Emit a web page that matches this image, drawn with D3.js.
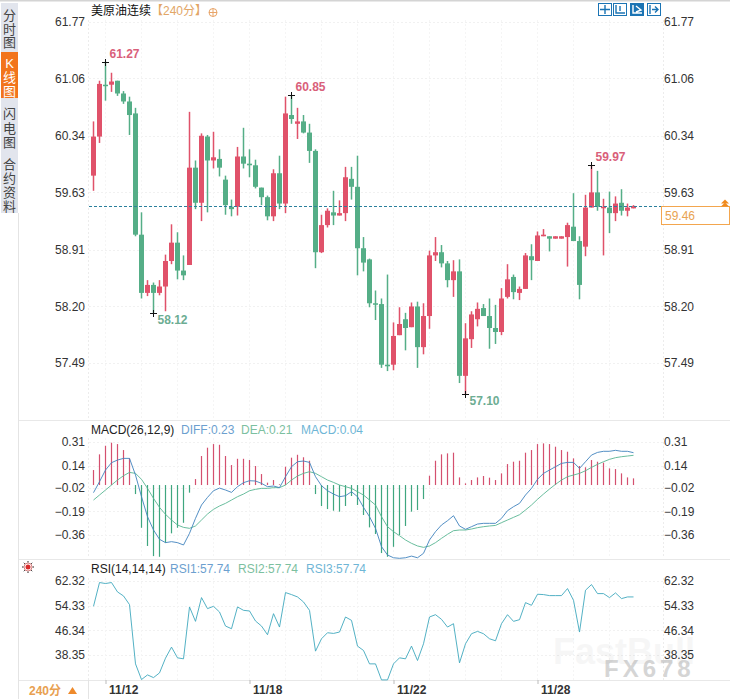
<!DOCTYPE html>
<html>
<head>
<meta charset="utf-8">
<script src="https://d3js.org/d3.v7.min.js"></script>
<style>
html, body { margin: 0; padding: 0; background: #fff; }
svg { display: block; }
text { font-family: "Liberation Sans", "Noto Sans CJK SC", sans-serif; }
</style>
</head>
<body>
<div id="chart"></div>
<script>
var opens = [59.84,60.33,60.98,60.98,61.03,60.87,60.77,60.62,59.10,58.37,58.47,58.37,58.45,58.77,59.00,58.65,58.72,59.94,59.50,60.33,60.03,60.05,59.79,59.45,59.45,60.08,59.99,59.97,59.69,59.57,59.33,59.87,59.49,60.60,60.49,60.52,60.38,60.15,58.88,59.22,59.38,59.34,59.37,59.80,59.70,58.93,58.79,58.24,58.23,57.47,57.47,57.84,58.04,57.94,58.20,57.69,58.08,58.84,58.88,58.74,58.53,58.64,57.33,57.79,58.04,58.18,58.08,57.93,57.88,58.32,58.57,58.37,58.42,58.83,58.77,59.08,59.08,59.05,59.05,59.07,59.20,59.02,58.95,59.44,59.63,59.44,59.44,59.37,59.50,59.40,59.43];
var highs = [60.52,61.03,61.27,61.13,61.03,60.90,60.83,60.69,59.38,58.53,58.50,58.53,58.85,59.23,59.13,58.84,60.64,60.03,60.37,60.35,60.39,60.17,59.84,59.54,60.20,60.44,60.17,60.04,59.69,59.59,59.92,60.09,60.83,60.85,60.69,60.60,60.49,60.17,59.35,59.43,59.65,59.53,59.95,59.95,60.09,59.07,58.80,58.40,58.30,58.60,58.00,58.19,58.12,58.25,58.26,58.24,58.90,59.07,58.97,58.77,58.78,58.79,57.99,58.14,58.25,58.23,58.30,58.22,58.43,58.73,58.60,58.45,58.87,58.98,59.14,59.17,59.08,59.08,59.08,59.25,59.62,59.08,59.60,59.97,59.90,59.55,59.64,59.58,59.67,59.49,59.47];
var lows = [59.65,60.25,60.78,60.89,60.84,60.74,60.35,59.08,58.30,58.33,58.12,58.34,58.14,58.73,58.54,58.53,58.72,59.42,59.27,59.38,59.93,59.83,59.35,59.33,59.34,59.93,59.82,59.68,59.47,59.28,59.27,59.42,59.37,60.49,60.30,60.37,60.00,58.68,58.87,59.19,59.22,59.34,59.27,59.54,58.59,58.64,58.19,58.03,57.43,57.39,57.40,57.84,57.65,57.94,57.43,57.60,57.92,58.77,58.69,58.44,58.32,57.24,57.10,57.68,57.95,58.08,57.67,57.73,57.84,58.30,58.29,58.28,58.42,58.53,58.77,59.08,58.89,59.05,59.05,58.70,59.02,58.29,58.83,59.44,59.40,58.84,59.12,59.27,59.34,59.33,59.43];
var closes = [60.33,60.99,60.97,61.02,60.87,60.77,60.60,59.10,58.37,58.47,58.37,58.45,58.77,59.00,58.65,58.59,59.94,59.50,60.34,60.03,60.07,59.94,59.47,59.42,60.08,59.99,59.97,59.70,59.57,59.33,59.87,59.49,60.62,60.55,60.52,60.38,60.15,58.88,59.22,59.40,59.34,59.37,59.82,59.70,58.93,58.75,58.24,58.23,57.47,57.45,57.83,57.98,57.93,58.20,57.69,58.08,58.84,58.88,58.74,58.53,58.64,57.33,57.80,58.10,58.17,58.08,57.93,57.88,58.30,58.54,58.38,58.42,58.84,58.78,59.09,59.10,59.05,59.08,59.08,59.22,59.02,58.47,59.44,59.63,59.45,59.45,59.37,59.49,59.40,59.44,59.46];

var macdBars = [0.108,0.221,0.283,0.305,0.295,0.252,0.192,-0.065,-0.308,-0.439,-0.512,-0.517,-0.416,-0.348,-0.308,-0.272,-0.055,0.043,0.209,0.269,0.295,0.290,0.209,0.144,0.189,0.189,0.180,0.137,0.079,0.017,0.036,0.005,0.132,0.197,0.218,0.200,0.175,-0.065,-0.151,-0.173,-0.185,-0.192,-0.151,-0.079,-0.144,-0.216,-0.305,-0.353,-0.490,-0.517,-0.445,-0.360,-0.295,-0.192,-0.180,-0.101,0.067,0.175,0.221,0.228,0.233,0.055,0.012,0.036,0.055,0.065,0.053,0.036,0.084,0.151,0.168,0.175,0.233,0.252,0.295,0.300,0.295,0.276,0.252,0.240,0.192,0.137,0.128,0.180,0.168,0.161,0.120,0.115,0.084,0.055,0.048];
var diffLine = [-0.055,0.024,0.108,0.161,0.180,0.192,0.192,0.072,-0.084,-0.228,-0.324,-0.391,-0.415,-0.408,-0.415,-0.432,-0.348,-0.240,-0.144,-0.089,-0.041,-0.022,-0.036,-0.053,-0.012,0.017,0.031,0.029,0.012,-0.012,-0.007,-0.019,0.060,0.132,0.168,0.173,0.163,0.060,-0.005,-0.041,-0.065,-0.084,-0.077,-0.048,-0.084,-0.161,-0.228,-0.312,-0.444,-0.504,-0.524,-0.528,-0.524,-0.512,-0.524,-0.492,-0.396,-0.336,-0.288,-0.257,-0.221,-0.295,-0.319,-0.300,-0.281,-0.276,-0.276,-0.276,-0.240,-0.185,-0.156,-0.132,-0.072,-0.024,0.041,0.084,0.108,0.132,0.156,0.163,0.163,0.120,0.168,0.216,0.235,0.243,0.243,0.250,0.243,0.243,0.233];
var deaLine = [-0.108,-0.072,-0.036,0,0.036,0.067,0.091,0.084,0.041,-0.024,-0.096,-0.161,-0.211,-0.252,-0.288,-0.305,-0.312,-0.295,-0.252,-0.209,-0.175,-0.151,-0.132,-0.108,-0.084,-0.065,-0.041,-0.031,-0.024,-0.024,-0.019,-0.019,0,0.036,0.065,0.084,0.096,0.084,0.060,0.036,0.019,0,-0.012,-0.024,-0.048,-0.072,-0.108,-0.144,-0.228,-0.300,-0.336,-0.365,-0.396,-0.420,-0.439,-0.449,-0.439,-0.415,-0.384,-0.355,-0.329,-0.324,-0.324,-0.317,-0.307,-0.300,-0.295,-0.291,-0.271,-0.252,-0.233,-0.214,-0.180,-0.144,-0.103,-0.065,-0.029,0.005,0.036,0.060,0.072,0.084,0.103,0.127,0.149,0.168,0.185,0.197,0.204,0.209,0.214];
var rsiLine = [54.12,61.82,61.50,61.82,58.78,57.48,54.67,35.48,30.39,31.90,31.03,32.55,37.32,40.90,37.43,37.11,53.91,49.25,56.94,53.37,54.12,52.28,47.73,46.86,53.91,52.82,52.61,49.36,47.73,44.91,51.74,47.40,58.57,57.92,57.16,55.53,52.82,39.60,43.61,45.56,45.34,45.78,50.66,49.57,41.23,39.82,35.48,35.48,30.28,30.28,35.48,37.43,37.11,41.23,36.56,41.98,50.66,51.41,49.90,47.40,48.49,35.80,41.98,45.24,46.00,45.24,43.61,42.96,48.49,51.41,49.25,49.79,55.32,54.45,58.03,57.92,57.59,57.59,57.59,59.87,56.07,45.78,59.33,61.17,58.24,58.24,56.94,58.46,56.62,57.16,57.16];

var priceTicks = [61.77,61.06,60.34,59.63,58.91,58.20,57.49];
var macdTicks = [0.31,0.14,-0.02,-0.19,-0.36];
var rsiTicks = [62.32,54.33,46.34,38.35];
var dateIndex = [2,26,50,74];
var dateLabels = ['11/12','11/18','11/22','11/28'];
var lastPrice = 59.46;
var macdLegend = ['DIFF:0.23','DEA:0.21','MACD:0.04'];
var rsiLegend = ['RSI1:57.74','RSI2:57.74','RSI3:57.74'];
var extremes = [
  {i: 2, v: 61.27, up: true},
  {i: 10, v: 58.12, up: false},
  {i: 33, v: 60.85, up: true},
  {i: 62, v: 57.10, up: false},
  {i: 83, v: 59.97, up: true}
];
var sideTabs = [
  {chars: ['分','时','图'], ys: [15,29,42]},
  {chars: ['K','线','图'], ys: [63,77,91], on: true},
  {chars: ['闪','电','图'], ys: [113,128,142]},
  {chars: ['合','约','资','料'], ys: [164,178,192,206]}
];

var w = 730, h = 699;
var left = 89, right = 663;
var red = '#e0526a', green = '#55ae87';

var svg = d3.select('#chart').append('svg').attr('width', w).attr('height', h);

var x = d3.scaleLinear().domain([0, 90]).range([93, 633]);
var yPrice = d3.scaleLinear().domain([57.10, 61.77]).range([394.2, 21.7]);
var yMacd = d3.scaleLinear().domain([-0.36, 0.31]).range([535, 442]);
var yRsi = d3.scaleLinear().domain([38.35, 62.32]).range([655, 581]);

function px(i) { return Math.round(x(i)) + 0.5; }

// frame
svg.append('rect').attr('width', w).attr('height', 1.5).attr('fill', '#d4d4d4');
[420, 559, 680].forEach(function(yy) {
  svg.append('line').attr('x1', 18).attr('x2', w).attr('y1', yy + 0.5).attr('y2', yy + 0.5)
    .attr('stroke', '#e8e8e8');
});
svg.append('line').attr('x1', 18.5).attr('x2', 18.5).attr('y1', 213).attr('y2', 699).attr('stroke', '#e4e4e4');
svg.append('line').attr('x1', 88.5).attr('x2', 88.5).attr('y1', 680).attr('y2', 699).attr('stroke', '#e4e4e4');

// side tabs
svg.append('rect').attr('x', 1).attr('y', 3).attr('width', 17).attr('height', 210).attr('fill', '#e2e5ed');
svg.append('rect').attr('x', 1).attr('y', 52).attr('width', 17).attr('height', 46).attr('fill', '#f2741c');
sideTabs.forEach(function(t) {
  svg.selectAll(null).data(t.chars).enter().append('text')
    .attr('x', 9.5)
    .attr('y', function(d, i) { return t.ys[i] + 5; })
    .attr('text-anchor', 'middle')
    .attr('font-size', 13)
    .attr('fill', t.on ? '#fff' : '#444')
    .text(function(d) { return d; });
});

// grid
function grid(scale, ticks, top, bottom) {
  svg.selectAll(null).data(ticks).enter().append('line')
    .attr('x1', left).attr('x2', right)
    .attr('y1', function(d) { return Math.round(scale(d)) + 0.5; })
    .attr('y2', function(d) { return Math.round(scale(d)) + 0.5; })
    .attr('stroke', '#f1f1f1').attr('stroke-dasharray', '2,2');
  svg.selectAll(null).data(d3.range(2, 91, 6)).enter().append('line')
    .attr('x1', function(d) { return px(d); }).attr('x2', function(d) { return px(d); })
    .attr('y1', top).attr('y2', bottom)
    .attr('stroke', '#f5f5f5').attr('stroke-dasharray', '2,2');
  [left - 0.5, right + 0.5].forEach(function(xx) {
    svg.append('line').attr('x1', xx).attr('x2', xx).attr('y1', top).attr('y2', bottom)
      .attr('stroke', '#ececec').attr('stroke-dasharray', '2,2');
  });
}
grid(yPrice, priceTicks, 20, 420);
grid(yMacd, macdTicks, 438, 558);
grid(yRsi, rsiTicks, 578, 680);

// value axes on both sides
function valueAxes(scale, ticks) {
  var fmt = d3.format('.2f');
  var l = svg.append('g').attr('transform', 'translate(86,0)')
    .call(d3.axisLeft(scale).tickValues(ticks).tickSize(0).tickPadding(1).tickFormat(fmt));
  var r = svg.append('g').attr('transform', 'translate(663,0)')
    .call(d3.axisRight(scale).tickValues(ticks).tickSize(0).tickPadding(1).tickFormat(fmt));
  [l, r].forEach(function(g) {
    g.select('.domain').remove();
    g.selectAll('text').attr('font-size', 12).attr('font-family', '"Liberation Sans", sans-serif').attr('fill', '#333');
  });
}
valueAxes(yPrice, priceTicks);
valueAxes(yMacd, macdTicks);
valueAxes(yRsi, rsiTicks);

// candles
var candle = svg.selectAll('.candle').data(opens).enter().append('g').attr('class', 'candle');
function candleColor(d, i) { return closes[i] >= opens[i] ? red : green; }
candle.append('rect')
  .attr('x', function(d, i) { return px(i) - 0.75; })
  .attr('width', 1.5)
  .attr('y', function(d, i) { return yPrice(highs[i]); })
  .attr('height', function(d, i) { return yPrice(lows[i]) - yPrice(highs[i]); })
  .attr('fill', candleColor);
candle.append('rect')
  .attr('x', function(d, i) { return px(i) - 2.5; })
  .attr('width', 5)
  .attr('y', function(d, i) { return yPrice(Math.max(opens[i], closes[i])); })
  .attr('height', function(d, i) { return Math.max(1.5, Math.abs(yPrice(opens[i]) - yPrice(closes[i]))); })
  .attr('fill', candleColor);

// last price line and box
var lastY = Math.round(yPrice(lastPrice)) + 0.5;
svg.append('line').attr('x1', left).attr('x2', 661).attr('y1', lastY).attr('y2', lastY)
  .attr('stroke', '#2b7f9c').attr('stroke-dasharray', '3,2');
svg.append('rect').attr('x', 661.5).attr('y', lastY).attr('width', 68).attr('height', 18)
  .attr('fill', '#fff').attr('stroke', '#f3a64e');
svg.append('text').attr('x', 665).attr('y', lastY + 13.5).attr('font-size', 12).attr('fill', '#e9a352')
  .text(d3.format('.2f')(lastPrice));
[0, 3].forEach(function(dy) {
  svg.append('path').attr('d', 'M721,' + (lastY - 3 + dy) + 'L725,' + (lastY - 7 + dy) + 'L729,' + (lastY - 3 + dy) + 'Z')
    .attr('fill', '#f08a1d');
});

// highest and lowest marks
var mark = svg.selectAll('.mark').data(extremes).enter().append('g').attr('class', 'mark');
mark.append('path')
  .attr('d', function(d) {
    var cx = px(d.i), cy = Math.round(yPrice(d.v)) + 0.5;
    return 'M' + (cx - 3.5) + ',' + cy + 'H' + (cx + 3.5) + 'M' + cx + ',' + (cy - 3.5) + 'V' + (cy + 3.5);
  })
  .attr('stroke', '#111').attr('fill', 'none');
mark.append('text')
  .attr('x', function(d) { return px(d.i) + 4; })
  .attr('y', function(d) { return yPrice(d.v) + (d.up ? -4 : 11); })
  .attr('font-size', 12)
  .attr('font-weight', 'bold')
  .attr('fill', function(d) { return d.up ? '#d9607a' : '#6dad93'; })
  .text(function(d) { return d3.format('.2f')(d.v); });

// MACD bars and lines
svg.selectAll('.macd').data(macdBars).enter().append('rect').attr('class', 'macd')
  .attr('x', function(d, i) { return px(i) - 0.6; })
  .attr('width', 1.2)
  .attr('y', function(d) { return Math.min(yMacd(0), yMacd(d)); })
  .attr('height', function(d) { return Math.abs(yMacd(0) - yMacd(d)); })
  .attr('fill', function(d) { return d >= 0 ? '#d4506f' : '#3fa67f'; });

function drawLine(values, scale, color) {
  svg.append('path').datum(values)
    .attr('fill', 'none').attr('stroke', color).attr('stroke-width', 0.9)
    .attr('d', d3.line().x(function(d, i) { return x(i) + 0.5; }).y(function(d) { return scale(d); }));
}
drawLine(deaLine, yMacd, '#58b592');
drawLine(diffLine, yMacd, '#3f82bd');
drawLine(rsiLine, yRsi, '#3fa8bd');

// date axis
var xDate = d3.axisBottom(x).tickValues(dateIndex).tickSize(4)
  .tickFormat(function(d, i) { return dateLabels[i]; });
var dateG = svg.append('g').attr('transform', 'translate(0.5,680)').call(xDate);
dateG.select('.domain').remove();
dateG.selectAll('line').attr('stroke', '#bbb');
dateG.selectAll('text')
  .attr('text-anchor', 'start').attr('x', 3).attr('y', 3).attr('dy', '0.9em')
  .attr('font-size', 12).attr('font-weight', 'bold')
  .attr('font-family', '"Liberation Sans", sans-serif').attr('fill', '#333');

// titles and legends
function label(xx, yy, str, color, size, weight) {
  return svg.append('text').attr('x', xx).attr('y', yy).attr('font-size', size || 12)
    .attr('font-weight', weight || 'normal').attr('fill', color).text(str);
}
label(91, 15, '美原油连续', '#111');
label(151, 15, '【240分】', '#e2a666');
svg.append('circle').attr('cx', 213).attr('cy', 12.5).attr('r', 4).attr('fill', 'none').attr('stroke', '#e8a468');
svg.append('path').attr('d', 'M209,12.5H217M213,8.5V16.5').attr('stroke', '#e8a468').attr('fill', 'none');

var legendColors = ['#6c9fcf', '#7cc0a0', '#6fb6d6'];
label(91, 434, 'MACD(26,12,9)', '#222');
[181, 241, 301].forEach(function(lx, i) { label(lx, 434, macdLegend[i], legendColors[i]); });

label(91, 573, 'RSI(14,14,14)', '#222');
[170, 238, 306].forEach(function(lx, i) { label(lx, 573, rsiLegend[i], legendColors[i]); });

label(29, 695, '240分', '#e8a050', 12, 'bold');
svg.append('path').attr('d', 'M68,694L72.5,687L77,694Z').attr('fill', '#ee8a2c');

// tool buttons
[598, 613, 630, 647].forEach(function(bx, i) {
  var on = i === 2;
  svg.append('rect').attr('x', bx + 0.5).attr('y', 3.5).attr('width', 13).attr('height', 12)
    .attr('fill', on ? '#1b74b4' : '#fff').attr('stroke', '#1b74b4');
  var d = ['M' + (bx + 7) + ',5V14M' + (bx + 2) + ',9.5H' + (bx + 12),
           'M' + (bx + 3) + ',5V13H' + (bx + 12) + 'M' + (bx + 7) + ',6V11',
           'M' + (bx + 3) + ',5V13H' + (bx + 12) + 'M' + (bx + 6) + ',6L' + (bx + 11) + ',10L' + (bx + 6) + ',12',
           'M' + (bx + 3) + ',5V14M' + (bx + 5) + ',9.5H' + (bx + 11) + 'M' + (bx + 8) + ',6.5L' + (bx + 11) + ',9.5L' + (bx + 8) + ',12.5'][i];
  svg.append('path').attr('d', d).attr('fill', 'none').attr('stroke', on ? '#fff' : '#1b74b4').attr('stroke-width', 1.4);
});

// RSI settings icon
svg.append('circle').attr('cx', 28).attr('cy', 567).attr('r', 2.5).attr('fill', '#d92b2b');
svg.append('circle').attr('cx', 28).attr('cy', 567).attr('r', 4).attr('fill', 'none').attr('stroke', '#d98080');
svg.append('path').attr('d', 'M22,567H23.5M32.5,567H34M28,561V562.5M28,571.5V573M23.8,562.8L24.8,563.8M31.2,570.2L32.2,571.2M23.8,571.2L24.8,570.2M31.2,563.8L32.2,562.8')
  .attr('stroke', '#222').attr('fill', 'none');

// watermark
label(553, 664, 'FastBull', '#000', 36, 'bold').attr('opacity', 0.03);
label(604, 677, 'FX678', '#999', 24, 'bold').attr('letter-spacing', 4).attr('opacity', 0.4);
</script>
</body>
</html>
